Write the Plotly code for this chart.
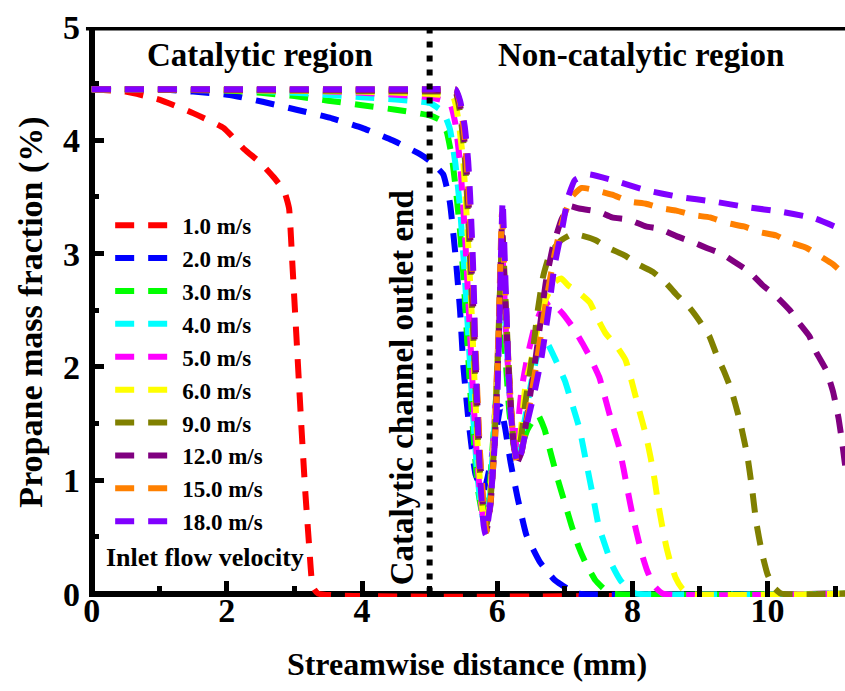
import plotly.graph_objects as go

# ---------------- data ----------------
labels = ["1.0 m/s", "2.0 m/s", "3.0 m/s", "4.0 m/s", "5.0 m/s",
          "6.0 m/s", "9.0 m/s", "12.0 m/s", "15.0 m/s", "18.0 m/s"]
colors = ["#FF0000", "#0000FF", "#00FF00", "#00FFFF", "#FF00FF",
          "#FFFF00", "#808000", "#800080", "#FF8000", "#8000FF"]

x_v1 = [0, 0.5, 1.0, 1.5, 1.95, 2.26, 2.5, 2.7, 2.85, 2.92, 2.97, 3.04, 3.1, 3.16, 3.22, 3.27, 3.35, 11.15]
y_v1 = [4.45, 4.43, 4.36, 4.24, 4.11, 3.92, 3.8, 3.67, 3.55, 3.4, 2.9, 2.15, 1.5, 0.9, 0.4, 0.06, 0, 0]

x_v2 = [0, 1.0, 1.5, 2.04, 2.53, 3.03, 3.52, 4.0, 4.45, 4.85, 5.0, 5.2, 5.3, 5.38, 5.45, 5.5, 5.58, 5.68, 5.8,
        5.95, 6.05, 6.12, 6.2, 6.3, 6.43, 6.63, 6.85, 7.05, 7.2, 11.15]
y_v2 = [4.45, 4.45, 4.43, 4.4, 4.34, 4.27, 4.2, 4.11, 4.0, 3.88, 3.82, 3.7, 3.45, 3.0, 2.5, 2.0, 1.5, 1.05, 0.9,
        1.3, 1.65, 1.45, 1.15, 0.85, 0.52, 0.28, 0.12, 0.04, 0, 0]

x_v3 = [0, 1.0, 2.0, 2.5, 3.0, 3.5, 4.0, 4.5, 5.0, 5.15, 5.25, 5.33, 5.4, 5.45, 5.5, 5.55, 5.6, 5.66, 5.72, 5.8,
        5.86, 5.92, 5.98, 6.03, 6.07, 6.12, 6.18, 6.25, 6.32, 6.45, 6.6, 6.7, 6.8, 6.9, 7.0, 7.1, 7.2, 7.3,
        7.45, 7.6, 7.7, 11.15]
y_v3 = [4.45, 4.45, 4.44, 4.42, 4.39, 4.35, 4.31, 4.27, 4.22, 4.18, 4.08, 3.85, 3.5, 3.2, 2.8, 2.3, 1.8, 1.3, 0.9, 0.65,
        0.75, 1.2, 1.7, 2.3, 2.5, 2.1, 1.6, 1.3, 1.25, 1.45, 1.58, 1.45, 1.22, 1.0, 0.8, 0.6, 0.42, 0.28,
        0.12, 0.03, 0, 0]

x_v4 = [0, 2.0, 3.0, 4.0, 5.0, 5.2, 5.3, 5.38, 5.45, 5.52, 5.58, 5.64, 5.7, 5.76, 5.82, 5.88, 5.94, 6.0, 6.05,
        6.09, 6.14, 6.2, 6.27, 6.35, 6.5, 6.65, 6.75, 6.85, 7.0, 7.12, 7.22, 7.32, 7.42, 7.5, 7.6, 7.7, 7.82,
        7.95, 8.05, 11.15]
y_v4 = [4.45, 4.45, 4.42, 4.38, 4.33, 4.25, 4.1, 3.8, 3.4, 2.8, 2.2, 1.6, 1.1, 0.75, 0.6, 0.8, 1.3, 1.9, 2.6,
        2.8, 2.2, 1.6, 1.25, 1.35, 1.85, 2.22, 2.2, 2.08, 1.88, 1.65, 1.45, 1.15, 0.85, 0.6, 0.42, 0.25, 0.12,
        0.03, 0, 0]

x_v5 = [0, 3.0, 4.0, 5.0, 5.3, 5.38, 5.45, 5.52, 5.58, 5.64, 5.7, 5.76, 5.82, 5.88, 5.94, 6.0, 6.05, 6.08,
        6.13, 6.19, 6.26, 6.36, 6.45, 6.55, 6.65, 6.78, 6.97, 7.12, 7.26, 7.37, 7.51, 7.6, 7.7, 7.8, 7.87,
        7.94, 8.0, 8.07, 8.14, 8.22, 8.32, 8.45, 11.15]
y_v5 = [4.45, 4.44, 4.42, 4.38, 4.33, 4.15, 3.8, 3.2, 2.5, 1.8, 1.2, 0.8, 0.58, 0.75, 1.3, 2.0, 2.7, 2.95,
        2.3, 1.7, 1.25, 1.8, 2.1, 2.35, 2.5, 2.58, 2.47, 2.35, 2.21, 2.09, 1.91, 1.72, 1.5, 1.3, 1.1,
        0.88, 0.7, 0.52, 0.35, 0.2, 0.07, 0, 0]

x_v6 = [0, 4.0, 5.0, 5.35, 5.42, 5.5, 5.56, 5.62, 5.67, 5.72, 5.77, 5.82, 5.88, 5.95, 6.0, 6.05, 6.08, 6.13,
        6.19, 6.26, 6.33, 6.42, 6.5, 6.6, 6.72, 6.85, 6.95, 7.05, 7.2, 7.37, 7.49, 7.6, 7.77, 7.9, 8.0, 8.1,
        8.2, 8.27, 8.33, 8.38, 8.44, 8.5, 8.56, 8.64, 8.73, 8.82, 11.15]
y_v6 = [4.45, 4.43, 4.41, 4.38, 4.2, 3.8, 3.2, 2.5, 1.8, 1.2, 0.8, 0.6, 0.75, 1.35, 2.0, 2.8, 3.05, 2.4,
        1.75, 1.25, 1.35, 1.85, 2.05, 2.35, 2.6, 2.75, 2.78, 2.72, 2.66, 2.57, 2.42, 2.3, 2.18, 2.06, 1.85, 1.62,
        1.4, 1.2, 1.0, 0.8, 0.6, 0.42, 0.28, 0.14, 0.05, 0, 0]

x_v9 = [0, 5.0, 5.38, 5.45, 5.52, 5.58, 5.63, 5.68, 5.73, 5.78, 5.83, 5.89, 5.96, 6.01, 6.06, 6.08, 6.13, 6.19,
        6.26, 6.33, 6.42, 6.52, 6.6, 6.68, 6.78, 6.95, 7.1, 7.25, 7.45, 7.65, 7.9, 8.1, 8.3, 8.5, 8.65, 8.85,
        9.0, 9.14, 9.25, 9.35, 9.45, 9.52, 9.6, 9.7, 9.77, 9.83, 9.92, 10.0, 10.1, 10.2, 11.15]
y_v9 = [4.45, 4.43, 4.42, 4.25, 3.85, 3.2, 2.5, 1.8, 1.2, 0.8, 0.58, 0.75, 1.35, 2.1, 3.0, 3.15, 2.5, 1.8,
        1.25, 1.3, 1.7, 2.1, 2.5, 2.8, 3.0, 3.12, 3.17, 3.16, 3.12, 3.05, 2.98, 2.9, 2.84, 2.74, 2.64, 2.52,
        2.4, 2.27, 2.1, 1.97, 1.82, 1.68, 1.5, 1.22, 0.93, 0.64, 0.35, 0.17, 0.05, 0, 0]

x_v12 = [0, 5.0, 5.38, 5.46, 5.53, 5.59, 5.64, 5.69, 5.74, 5.79, 5.84, 5.9, 5.97, 6.02, 6.07, 6.11, 6.17, 6.23,
         6.29, 6.36, 6.45, 6.55, 6.63, 6.72, 6.82, 6.95, 7.07, 7.2, 7.5, 7.7, 7.95, 8.2, 8.4, 8.67, 8.9, 9.1,
         9.32, 9.5, 9.73, 9.93, 10.1, 10.33, 10.45, 10.62, 10.72, 10.87, 10.97, 11.05, 11.1, 11.15]
y_v12 = [4.45, 4.44, 4.43, 4.28, 3.9, 3.3, 2.6, 1.9, 1.25, 0.8, 0.55, 0.78, 1.4, 2.2, 3.25, 2.7, 1.95, 1.4,
         1.15, 1.25, 1.6, 2.0, 2.35, 2.75, 3.05, 3.3, 3.42, 3.4, 3.37, 3.32, 3.3, 3.24, 3.22, 3.15, 3.1, 3.05,
         3.0, 2.93, 2.84, 2.72, 2.64, 2.5, 2.4, 2.27, 2.13, 1.97, 1.78, 1.55, 1.35, 1.12]

x_v15 = [0, 5.0, 5.38, 5.46, 5.53, 5.59, 5.64, 5.69, 5.74, 5.79, 5.84, 5.9, 5.97, 6.02, 6.07, 6.11, 6.17, 6.23,
         6.29, 6.36, 6.46, 6.56, 6.65, 6.73, 6.85, 6.97, 7.1, 7.25, 7.45, 7.7, 7.96, 8.2, 8.43, 8.65, 8.9, 9.15,
         9.4, 9.65, 9.88, 10.13, 10.33, 10.58, 10.8, 10.96, 11.15]
y_v15 = [4.45, 4.45, 4.45, 4.3, 3.95, 3.4, 2.75, 2.0, 1.3, 0.85, 0.55, 0.8, 1.4, 2.3, 3.35, 2.8, 2.0, 1.42,
         1.15, 1.25, 1.6, 1.95, 2.3, 2.6, 3.0, 3.3, 3.5, 3.58, 3.56, 3.52, 3.46, 3.44, 3.4, 3.38, 3.34, 3.32,
         3.27, 3.24, 3.19, 3.16, 3.1, 3.05, 2.97, 2.91, 2.81]

x_v18 = [0, 5.0, 5.38, 5.45, 5.52, 5.57, 5.6, 5.64, 5.66, 5.67, 5.69, 5.71, 5.73, 5.76, 5.8, 5.83, 5.9, 5.95,
         6.0, 6.04, 6.08, 6.12, 6.16, 6.2, 6.25, 6.3, 6.36, 6.46, 6.56, 6.66, 6.76, 6.85, 6.97, 7.05, 7.15,
         7.35, 7.7, 8.2, 8.7, 9.2, 9.7, 10.2, 10.7, 11.15]
y_v18 = [4.45, 4.45, 4.45, 4.35, 4.12, 3.82, 3.5, 2.95, 2.55, 2.2, 1.9, 1.55, 1.25, 0.9, 0.6, 0.52, 0.8, 1.2,
         1.7, 2.6, 3.47, 2.8, 2.1, 1.6, 1.3, 1.15, 1.25, 1.55, 1.8, 2.1, 2.5, 2.9, 3.25, 3.5, 3.65,
         3.7, 3.65, 3.56, 3.5, 3.46, 3.41, 3.37, 3.31, 3.2]

xs = [x_v1, x_v2, x_v3, x_v4, x_v5, x_v6, x_v9, x_v12, x_v15, x_v18]
ys = [y_v1, y_v2, y_v3, y_v4, y_v5, y_v6, y_v9, y_v12, y_v15, y_v18]

x_ticks = [0, 2, 4, 6, 8, 10]
y_ticks = [0, 1, 2, 3, 4, 5]
outlet_x = 5

FONT = "Liberation Serif"

fig = go.Figure()
for lab, col, xv, yv in zip(labels, colors, xs, ys):
    fig.add_trace(go.Scatter(
        x=xv, y=yv, mode="lines", name="<b>" + lab + "</b>",
        line=dict(color=col, width=6, dash="19px,14px", shape="spline", smoothing=0.4),
    ))

fig.update_layout(
    width=845, height=691,
    margin=dict(l=89, r=0, t=27, b=94),
    paper_bgcolor="white", plot_bgcolor="white",
    font=dict(family=FONT, color="black", size=26),
    showlegend=True,
    legend=dict(
        x=0.028, y=0.69, xanchor="left", yanchor="top",
        bgcolor="rgba(0,0,0,0)", borderwidth=0,
        font=dict(family=FONT, size=23, color="black"),
        itemwidth=62, tracegroupgap=0,
    ),
    xaxis=dict(
        range=[-0.04, 11.146], showgrid=False, showline=False,
        zeroline=True, zerolinecolor="black", zerolinewidth=6,
        tickmode="array", tickvals=x_ticks, ticktext=["<b>%d</b>" % v for v in x_ticks],
        ticks="inside", ticklen=16, tickwidth=5, tickcolor="black",
        ticklabelstandoff=-10,
        tickfont=dict(family=FONT, size=34, color="black"),
        minor=dict(ticks="inside", ticklen=11, tickwidth=5, tickcolor="black", dtick=1, tick0=0),
        title=dict(text="<b>Streamwise distance (mm)</b>", standoff=24,
                   font=dict(family=FONT, size=32, color="black")),
    ),
    yaxis=dict(
        range=[-0.03, 5.0], showgrid=False, showline=False,
        zeroline=True, zerolinecolor="black", zerolinewidth=6,
        tickmode="array", tickvals=y_ticks, ticktext=["<b>%d</b>" % v for v in y_ticks],
        ticks="inside", ticklen=15, tickwidth=5, tickcolor="black",
        ticklabelstandoff=8,
        tickfont=dict(family=FONT, size=34, color="black"),
        minor=dict(ticks="inside", ticklen=10, tickwidth=5, tickcolor="black", dtick=0.5, tick0=0),
        title=dict(text="<b>Propane mass fraction (%)</b>", standoff=10,
                   font=dict(family=FONT, size=34, color="black")),
    ),
    shapes=[
        dict(type="line", xref="x", yref="y", x0=outlet_x, x1=outlet_x, y0=0, y1=5,
             line=dict(color="black", width=6, dash="6px,8px"), layer="above"),
        dict(type="line", xref="paper", yref="y", x0=-0.004, x1=1, y0=5, y1=5,
             line=dict(color="black", width=7), layer="above"),
    ],
    annotations=[
        dict(text="<b>Catalytic region</b>", x=2.49, y=4.75, xref="x", yref="y", showarrow=False,
             font=dict(family=FONT, size=33, color="black")),
        dict(text="<b>Non-catalytic region</b>", x=8.13, y=4.75, xref="x", yref="y", showarrow=False,
             font=dict(family=FONT, size=33, color="black")),
        dict(text="<b>Catalytic channel outlet end</b>", x=4.59, y=1.82, xref="x", yref="y",
             showarrow=False, textangle=-90,
             font=dict(family=FONT, size=33, color="black")),
        dict(text="<b>Inlet flow velocity</b>", x=1.68, y=0.32, xref="x", yref="y", showarrow=False,
             font=dict(family=FONT, size=26, color="black")),
    ],
)

fig.write_html("out.html")
